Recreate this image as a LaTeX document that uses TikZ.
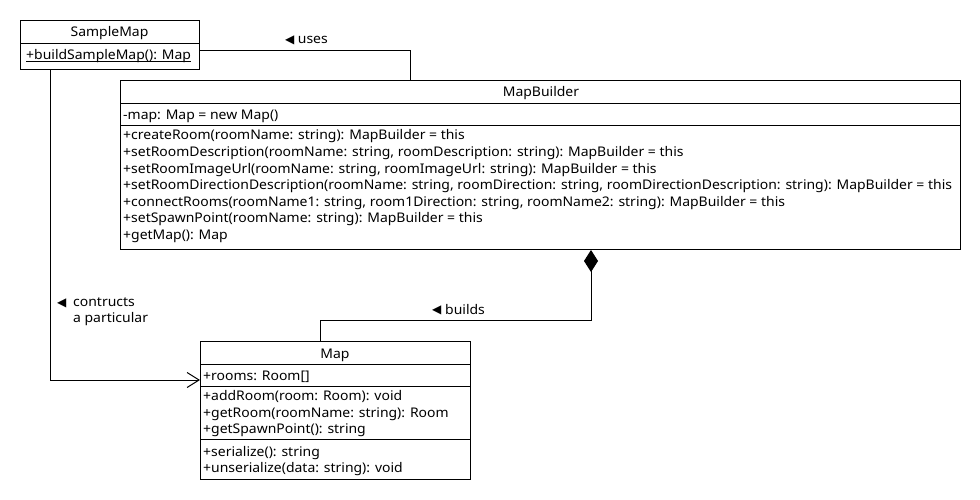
\documentclass[tikz,border=0pt]{standalone}
\usepackage{fontspec}
\setmainfont[FakeStretch=1.05]{Noto Sans}
\newfontfamily\symfont{DejaVu Sans}
\usetikzlibrary{arrows.meta}
\newcommand\umlfs{\fontsize{13.3}{16.6}\selectfont}
\newcommand\tri[1]{\makebox[#1][l]{\raisebox{0.3pt}{\symfont\fontsize{12}{12}\selectfont ◀}}}
\begin{document}
\begin{tikzpicture}[x=1pt,y=-1pt,
  box/.style={draw,line width=1pt,inner sep=0pt,anchor=north west},
  txt/.style={anchor=base west,inner sep=0pt,font=\umlfs},
  ttl/.style={anchor=base,inner sep=0pt,font=\umlfs},
  conn/.style={line width=1pt},
  divider/.style={line width=1pt}
]
\useasboundingbox (0,0) rectangle (980,500);

% SampleMap
\node[box,minimum width=179pt,minimum height=49pt] (sm) at (20,20) {};
\draw[divider] (20,44) -- (199,44);
\node[ttl] (smt) at (109.5,37) {SampleMap};
\node[txt] (smm) at (26,60) {+buildSampleMap(): Map};
\draw[line width=0.8pt] ([yshift=-1.6pt]smm.base west) -- ([yshift=-1.6pt]smm.base east);

% MapBuilder
\node[box,minimum width=840pt,minimum height=169pt] (mb) at (120,80) {};
\draw[divider] (120,104) -- (960,104);
\draw[divider] (120,125.5) -- (960,125.5);
\node[ttl] (mbt) at (541,97) {MapBuilder};
\node[txt] (mba) at (123,120) {-map: Map = new Map()};
\node[txt] (mbm1) at (123,140) {+createRoom(roomName: string): MapBuilder = this};
\node[txt] (mbm2) at (123,156.5) {+setRoomDescription(roomName: string, roomDescription: string): MapBuilder = this};
\node[txt] (mbm3) at (123,173) {+setRoomImageUrl(roomName: string, roomImageUrl: string): MapBuilder = this};
\node[txt] (mbm4) at (123,189.5) {+setRoomDirectionDescription(roomName: string, roomDirection: string, roomDirectionDescription: string): MapBuilder = this};
\node[txt] (mbm5) at (123,206) {+connectRooms(roomName1: string, room1Direction: string, roomName2: string): MapBuilder = this};
\node[txt] (mbm6) at (123,222.5) {+setSpawnPoint(roomName: string): MapBuilder = this};
\node[txt] (mbm7) at (123,239) {+getMap(): Map};

% Map
\node[box,minimum width=270pt,minimum height=138pt] (map) at (200,341) {};
\draw[divider] (200,364) -- (470,364);
\draw[divider] (200,386) -- (470,386);
\draw[divider] (200,439) -- (470,439);
\node[ttl] (mapt) at (335,358) {Map};
\node[txt] (mapa) at (203,380) {+rooms: Room[]};
\node[txt] (mapm1) at (203,400.5) {+addRoom(room: Room): void};
\node[txt] (mapm2) at (203,417) {+getRoom(roomName: string): Room};
\node[txt] (mapm3) at (203,433.5) {+getSpawnPoint(): string};
\node[txt] (mapm4) at (203,456) {+serialize(): string};
\node[txt] (mapm5) at (203,472.5) {+unserialize(data: string): void};

% connectors
\draw[conn] (sm.east |- 0,51) -- (410,51) -- (mb.north -| 410,0);
\node[txt] (luses) at (285,44) {\tri{12.7pt}uses};

\draw[conn,-{Straight Barb[length=12pt,width=15pt,line width=1pt]}] (sm.south -| 50,0) -- (50,380) -- (map.west |- 0,380);
\node[txt] (lcon1) at (57,306.5) {\tri{16pt}contructs};
\node[txt] (lcon2) at (73,322.5) {a particular};

\draw[conn,-{Diamond[length=22pt,width=14pt,fill=black]}] (map.north -| 320,0) -- (320,320) -- (591,320) -- (mb.south -| 591,0);
\node[txt] (lbuilds) at (432,314) {\tri{13pt}builds};
\end{tikzpicture}
\end{document}
